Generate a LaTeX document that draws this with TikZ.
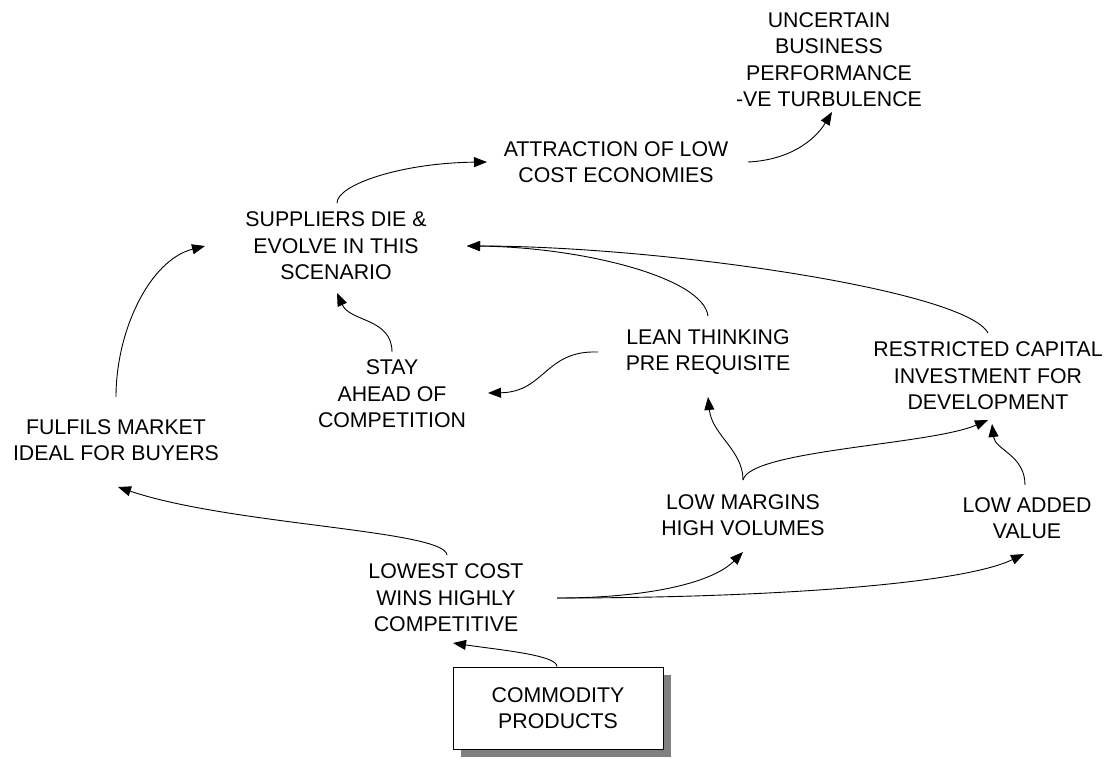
\documentclass[tikz,border=0pt]{standalone}
\usepackage{fontspec}
\setmainfont{Liberation Sans}
\usetikzlibrary{arrows.meta,calc}
\definecolor{shadowgray}{HTML}{808080}
\begin{document}
\begin{tikzpicture}[x=1pt,y=-1pt,
  lbl/.style={align=center,inner sep=0pt,font=\fontsize{21.3}{26.5}\selectfont},
  conn/.style={line width=0.9pt,-{Triangle[length=13pt,width=10pt]}},
  boxnode/.style={draw,line width=0.9pt,fill=white,minimum width=210pt,minimum height=82pt,inner sep=0pt,align=center,font=\fontsize{21.3}{26.5}\selectfont}]
\useasboundingbox (0,0) rectangle (1113,758);
% nodes
\node[lbl] (unc) at (829,59.5) {UNCERTAIN\\BUSINESS\\PERFORMANCE\\-VE TURBULENCE};
\node[lbl] (attr) at (616,162) {ATTRACTION OF LOW\\COST ECONOMIES};
\node[lbl] (sup) at (336,246) {SUPPLIERS DIE \&\\EVOLVE IN THIS\\SCENARIO};
\node[lbl] (stay) at (392,394) {STAY\\AHEAD OF\\COMPETITION};
\node[lbl] (lean) at (708,352) {LEAN THINKING\\PRE REQUISITE};
\node[lbl] (restr) at (988,376) {RESTRICTED CAPITAL\\INVESTMENT FOR\\DEVELOPMENT};
\node[lbl] (fulf) at (116,440) {FULFILS MARKET\\IDEAL FOR BUYERS};
\node[lbl] (lowm) at (743,515) {LOW MARGINS\\HIGH VOLUMES};
\node[lbl] (lowa) at (1027,518) {LOW ADDED\\VALUE};
\node[lbl] (lowest) at (446,598) {LOWEST COST\\WINS HIGHLY\\COMPETITIVE};
\fill[shadowgray] (461,675) rectangle (671,757);
\node[boxnode] (comm) at (558,708) {COMMODITY\\PRODUCTS};
% connectors
\draw[conn] ($(attr)+(132,0)$) .. controls (790,160) and (815,140) .. ($(unc)+(3,52.5)$);
\draw[conn] ($(sup)+(1,-43)$) .. controls (337,185) and (400,163) .. ($(attr)+(-129,0)$);
\draw[conn] ($(fulf)+(0,-43)$) .. controls (116,330) and (150,260) .. ($(sup)+(-131,0)$);
\draw[conn] ($(stay)+(0,-42)$) .. controls (392,318) and (350,322) .. ($(sup)+(1,47)$);
\draw[conn] ($(lean)+(0,-36)$) .. controls (703,277) and (580,247) .. ($(sup)+(131,0)$);
\draw[conn] ($(restr)+(0,-43)$) .. controls (965,290) and (660,246) .. ($(sup)+(131,0)$);
\draw[conn] ($(lean)+(-110,0)$) .. controls (545,350) and (545,392) .. ($(stay)+(96,-1)$);
\draw[conn] ($(lowm)+(0,-35)$) .. controls (743,450) and (712,435) .. ($(lean)+(0,45)$);
\draw[conn] ($(lowm)+(0,-35)$) .. controls (750,450) and (930,445) .. ($(restr)+(0,44)$);
\draw[conn] ($(lowa)+(-2,-33)$) .. controls (1025,455) and (995,450) .. ($(restr)+(4,48)$);
\draw[conn] ($(lowest)+(1,-43)$) .. controls (445,530) and (230,525) .. ($(fulf)+(2,47)$);
\draw[conn] ($(lowest)+(111,0)$) .. controls (640,598) and (710,585) .. ($(lowm)+(0,37)$);
\draw[conn] ($(lowest)+(111,0)$) .. controls (760,598) and (960,585) .. ($(lowa)+(-3,36)$);
\draw[conn] ($(comm.north)+(-1,0)$) .. controls (557,655) and (500,650) .. ($(lowest)+(7,45)$);
\end{tikzpicture}
\end{document}
